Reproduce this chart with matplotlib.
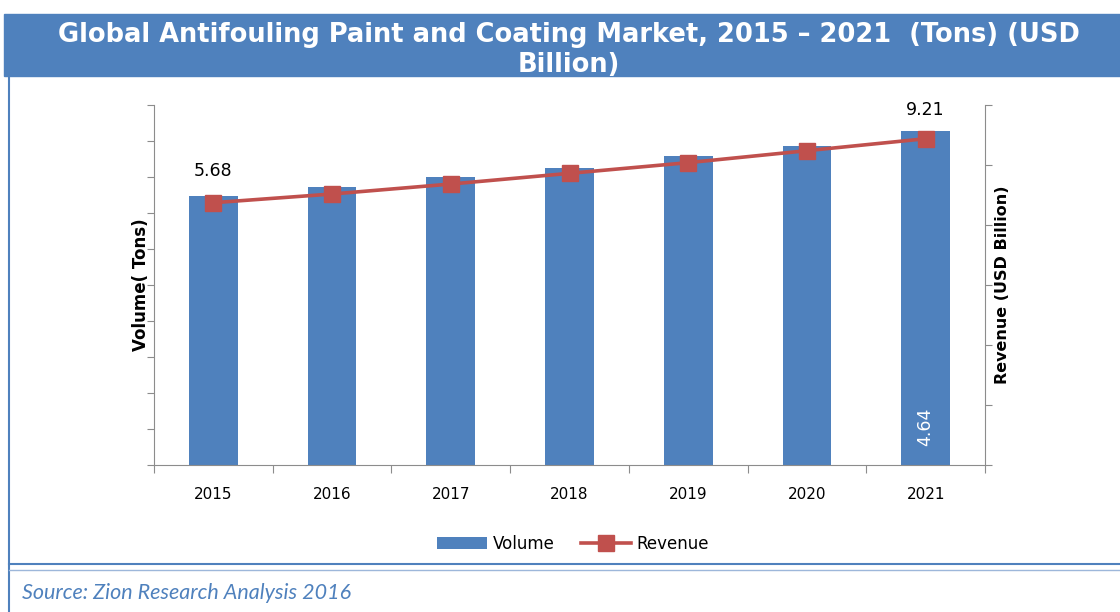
import matplotlib
matplotlib.use("Agg")
import matplotlib.pyplot as plt
import numpy as np
from matplotlib.patches import Rectangle
from matplotlib.lines import Line2D

years = ["2015", "2016", "2017", "2018", "2019", "2020", "2021"]
volume = [3.74, 3.86, 4.00, 4.12, 4.29, 4.43, 4.64]
revenue = [5.68, 6.16, 6.71, 7.30, 7.89, 8.55, 9.21]
title = "Global Antifouling Paint and Coating Market, 2015 \u2013 2021  (Tons) (USD\nBillion)"
source = "Source: Zion Research Analysis 2016"

BLUE = "#4F81BD"
RED = "#C0504D"
GRAY = "#8C8C8C"

fig = plt.figure(figsize=(11.2, 6.12), dpi=100)
W, H = 1120, 612

def fx(px):
    return px / W

def fy(py):
    return 1 - py / H

# frame decorations
fig.patches.append(Rectangle((fx(4), fy(76)), 1 - fx(4), fy(14) - fy(76),
                             transform=fig.transFigure, color=BLUE, zorder=0))
fig.lines.append(Line2D([fx(9), fx(9)], [fy(76), 0], transform=fig.transFigure,
                        color=BLUE, lw=1.5))
fig.lines.append(Line2D([fx(9), 1], [fy(564), fy(564)], transform=fig.transFigure,
                        color=BLUE, lw=1.5))
fig.lines.append(Line2D([fx(9), 1], [fy(570), fy(570)], transform=fig.transFigure,
                        color="#9DB7DA", lw=1.0))
fig.text(fx(569), fy(50), title, ha="center", va="center", color="white",
         fontsize=18.5, fontweight="bold", family="DejaVu Sans", linespacing=1.22)
fig.text(fx(22), fy(593), source, ha="left", va="center", color=BLUE,
         fontsize=15.5, style="italic", family="Lato")

ax = fig.add_axes([fx(154), fy(465), fx(985) - fx(154), fy(105) - fy(465)])
x = np.arange(len(years))
bars = ax.bar(x, volume, width=0.41, color=BLUE, zorder=2, label="Volume")
ax.set_xlim(-0.5, len(years) - 0.5)
ax.set_ylim(0, 5)
ax.set_yticks(np.arange(0, 5.01, 0.5))
ax.set_yticklabels([])
ax.set_xticks(np.arange(-0.5, len(years), 1.0))
ax.set_xticklabels([])
ax.set_xticks(x, minor=True)
ax.set_xticklabels(years, minor=True, fontsize=11, family="DejaVu Sans")
ax.tick_params(axis="x", which="minor", length=0, pad=16)
ax.tick_params(axis="x", which="major", length=6, color=GRAY, direction="out")
ax.tick_params(axis="y", length=5, color=GRAY, direction="out")
for s in ["top", "right"]:
    ax.spines[s].set_visible(False)
for s in ["left", "bottom"]:
    ax.spines[s].set_color(GRAY)
ax.set_ylabel("Volume( Tons)", fontsize=12, fontweight="bold")
ax.yaxis.set_label_coords(-0.005, 0.5)

ax2 = ax.twinx()
line, = ax2.plot(x, revenue, color=RED, lw=2.6, marker="s", markersize=11.5,
                 markerfacecolor=RED, markeredgecolor=RED, zorder=3, label="Revenue")
ax2.set_ylim(-8.79, 11.07)
ax2.set_yticks(np.linspace(-8.79, 11.07, 7))
ax2.set_yticklabels([])
ax2.tick_params(axis="y", length=5, color=GRAY, direction="out")
for s in ["top", "left", "bottom"]:
    ax2.spines[s].set_visible(False)
ax2.spines["right"].set_color(GRAY)
ax2.set_ylabel("Revenue (USD Billion)", fontsize=11.5, fontweight="bold")
ax2.yaxis.set_label_coords(1.012, 0.5)

# data labels
ax2.annotate(f"{revenue[0]:.2f}", (x[0], revenue[0]), xytext=(0, 16),
             textcoords="offset points", ha="center", va="bottom", fontsize=12.5)
ax2.annotate(f"{revenue[-1]:.2f}", (x[-1], revenue[-1]), xytext=(0, 14),
             textcoords="offset points", ha="center", va="bottom", fontsize=12.5)
ax.text(x[-1], 0.53, f"{volume[-1]:.2f}", rotation=90, ha="center", va="center",
        color="white", fontsize=12.5, zorder=4)

leg = fig.legend([bars, line], ["Volume", "Revenue"], loc="center",
                 bbox_to_anchor=(fx(573), fy(544)), ncol=2, frameon=False,
                 fontsize=12, handlelength=3.0, columnspacing=1.6, handletextpad=0.3)

fig.savefig("out.png", dpi=100)
